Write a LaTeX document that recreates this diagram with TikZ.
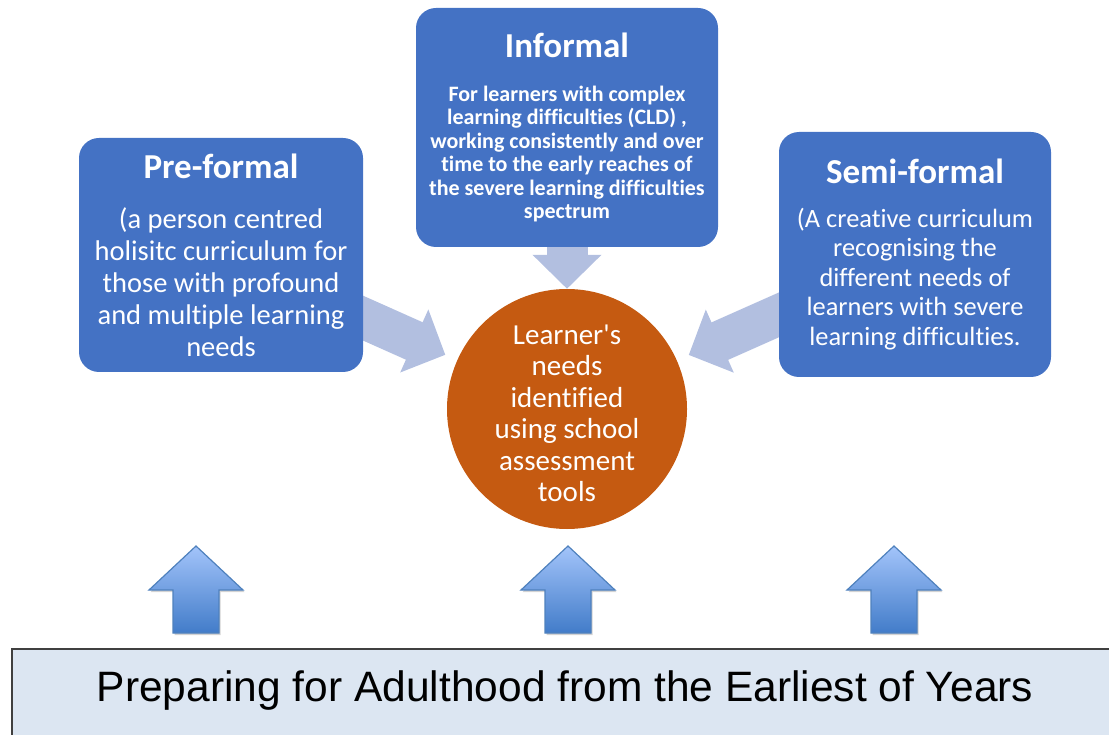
\documentclass[tikz,border=0pt]{standalone}
\usepackage{fontspec}
\setmainfont{Carlito}[Ligatures={NoCommon,NoContextual}]
\newfontfamily\bannerfont{Liberation Sans}
\usetikzlibrary{arrows.meta,backgrounds,shadows}
\definecolor{boxblue}{RGB}{68,114,196}
\definecolor{huborange}{RGB}{197,90,17}
\definecolor{linkblue}{RGB}{178,191,224}
\definecolor{bannerfill}{RGB}{220,230,242}
\definecolor{uptop}{RGB}{163,196,250}
\definecolor{upbottom}{RGB}{66,124,201}
\definecolor{upedge}{RGB}{79,129,189}
\tikzset{
    stage/.style={rectangle, rounded corners=20pt, fill=boxblue, text=white, align=center, inner sep=0pt},
    link/.style={draw=linkblue, line width=41pt, -{Triangle[width=67pt,length=34pt,color=linkblue]}},
    uparrow/.style={draw=upedge, line width=1.2pt, top color=uptop, bottom color=upbottom,
        drop shadow={opacity=0.35, shadow xshift=1.5pt, shadow yshift=-2pt}},
}

\begin{document}
\begin{tikzpicture}[x=1pt,y=-1pt]
    \useasboundingbox (0,0) rectangle (1109,735);

    % the three curriculum pathways
    \node [stage, minimum width=284pt, minimum height=234pt, font=\fontsize{28.5}{32}\selectfont] (pre) at (221,255)
        {{\fontsize{35}{35}\selectfont\bfseries Pre-formal}\\[18pt]
         (a person centred\\ holisitc curriculum for\\ those with profound\\ and multiple learning\\ needs};
    \node [stage, minimum width=302pt, minimum height=239pt, font=\fontsize{22}{23.5}\selectfont\bfseries] (inf) at (567,127.5)
        {{\fontsize{35}{35}\selectfont Informal}\\[20pt]
         For learners with complex\\ learning difficulties (CLD) ,\\ working consistently and over\\
         time to the early reaches of\\ the severe learning difficulties\\ spectrum};
    \node [stage, minimum width=272pt, minimum height=245pt, font=\fontsize{26.4}{29.5}\selectfont] (semi) at (915,254.5)
        {{\fontsize{35}{35}\selectfont\bfseries Semi-formal}\\[14pt]
         (A creative curriculum\\ recognising the\\ different needs of\\ learners with severe\\ learning difficulties.};

    % learner in the middle
    \node [circle, fill=huborange, text=white, minimum size=240pt, inner sep=0pt, align=center,
        font=\fontsize{29}{31.5}\selectfont] (hub) at (567,409)
        {\rule{0pt}{28.5pt}Learner\textquotesingle s\\ needs\\ identified\\ using school\\ assessment\\ tools};

    \begin{scope}[on background layer]
    \draw [link, shorten <=-20pt, shorten >=13pt] (pre) -- (hub);
    \draw [link, shorten <=-20pt] (inf.south) -- (hub.north);
    \draw [link, shorten <=-20pt, shorten >=13pt] (semi) -- (hub);
    \end{scope}

    % banner along the bottom
    \draw [fill=bannerfill, draw=black!75, line width=1.2pt] (12,649) rectangle (1125,750);
    \node [anchor=base, font=\bannerfont\fontsize{42.5}{43}\selectfont] (banner) at (565,701)
        {Preparing for Adulthood from the Earliest of Years};

    \foreach \cx in {196,568,894}
        \draw [uparrow] (\cx,546) -- (\cx+47,590) -- (\cx+23,590) -- (\cx+23,633)
            -- (\cx-23,633) -- (\cx-23,590) -- (\cx-47,590) -- cycle;
\end{tikzpicture}
\end{document}
